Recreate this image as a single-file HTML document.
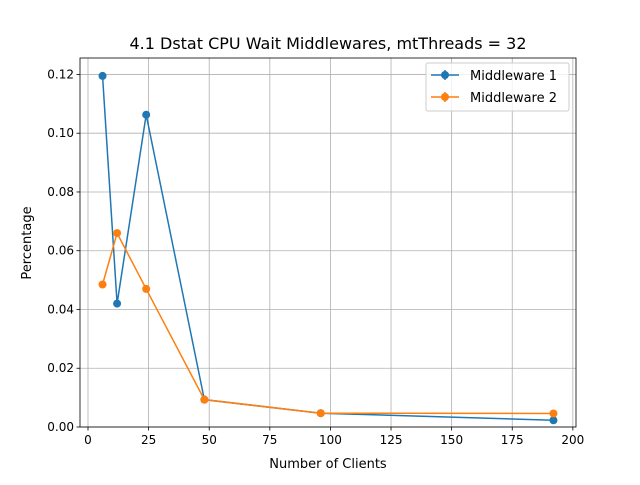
<!DOCTYPE html>
<html><head><meta charset="utf-8"><style>
body{margin:0;background:#fff}
svg text{font-family:"DejaVu Sans","Liberation Sans",sans-serif;fill:#000}
</style></head><body>
<svg id="chart" width="640" height="480" xmlns="http://www.w3.org/2000/svg">
<rect width="640" height="480" fill="#fff"/>
<g id="grid"></g>
<g id="axes"></g>
<g id="series"></g>
<text x="328" y="49" font-size="16" text-anchor="middle">4.1 Dstat CPU Wait Middlewares, mtThreads = 32</text>
<text x="328" y="468" font-size="13" text-anchor="middle">Number of Clients</text>
<text x="31" y="243" font-size="13" text-anchor="middle" transform="rotate(-90 31 243)">Percentage</text>
<g>
<rect x="426" y="63" width="143" height="48" fill="#fff" fill-opacity="0.8" stroke="#ccc" rx="2"/>
<g>
<line x1="431" y1="75" x2="459" y2="75" stroke="#1f77b4" stroke-width="1.5"/><line x1="445" y1="70" x2="445" y2="80" stroke="#1f77b4" stroke-width="1.5"/><circle cx="445" cy="75" r="4" fill="#1f77b4"/>
<text x="470" y="80" font-size="13">Middleware 1</text></g>
<g>
<line x1="431" y1="97" x2="459" y2="97" stroke="#ff7f0e" stroke-width="1.5"/><line x1="445" y1="92" x2="445" y2="102" stroke="#ff7f0e" stroke-width="1.5"/><circle cx="445" cy="97" r="4" fill="#ff7f0e"/>
<text x="470" y="102" font-size="13">Middleware 2</text></g>
</g>
</svg>
<script>
const clients=[6,12,24,48,96,192];
const mw1=[0.1195,0.042,0.1063,0.0093,0.0047,0.0023];
const mw2=[0.0485,0.066,0.047,0.0093,0.0047,0.0046];
const xTicks=[0,25,50,75,100,125,150,175,200];
const yTicks=[0,0.02,0.04,0.06,0.08,0.10,0.12];
const yTickLabels=["0.00","0.02","0.04","0.06","0.08","0.10","0.12"];
const L=80,R=576,T=58,B=427;
const xmin=-3.3,xmax=201.3,ymin=0,ymax=0.1256;
const X=v=>L+(v-xmin)/(xmax-xmin)*(R-L);
const Y=v=>B-(v-ymin)/(ymax-ymin)*(B-T);
const NS="http://www.w3.org/2000/svg";
function mk(tag,attrs,parent){const e=document.createElementNS(NS,tag);for(const k in attrs)e.setAttribute(k,attrs[k]);parent.appendChild(e);return e;}
const grid=document.getElementById('grid'),axes=document.getElementById('axes'),ser=document.getElementById('series');
xTicks.forEach(t=>{const x=X(t);
mk('line',{x1:x,x2:x,y1:T,y2:B,stroke:'#b0b0b0','stroke-width':0.8},grid);
mk('line',{x1:x,x2:x,y1:B,y2:B+3.5,stroke:'#000','stroke-width':0.8},axes);
const tx=mk('text',{x:x,y:B+17,'font-size':12,'text-anchor':'middle'},axes);tx.textContent=t;

});
yTicks.forEach((t,i)=>{const y=Y(t);
mk('line',{x1:L,x2:R,y1:y,y2:y,stroke:'#b0b0b0','stroke-width':0.8},grid);
mk('line',{x1:L-3.5,x2:L,y1:y,y2:y,stroke:'#000','stroke-width':0.8},axes);
const tx=mk('text',{x:L-6,y:y+4,'font-size':12,'text-anchor':'end'},axes);tx.textContent=yTickLabels[i];

});
const frame=mk('rect',{x:L,y:T,width:R-L,height:B-T,fill:'none',stroke:'#000','stroke-width':0.8},axes);


[[mw1,'#1f77b4','middleware-1'],[mw2,'#ff7f0e','middleware-2']].forEach(([d,c,n])=>{
const g=mk('g',{},ser);


const line=mk('polyline',{points:clients.map((x,i)=>X(x)+','+Y(d[i])).join(' '),fill:'none',stroke:c,'stroke-width':1.5},g);


clients.forEach((x,i)=>{const p=mk('circle',{cx:X(x),cy:Y(d[i]),r:4,fill:c},g);

});
});
</script>
</body></html>
